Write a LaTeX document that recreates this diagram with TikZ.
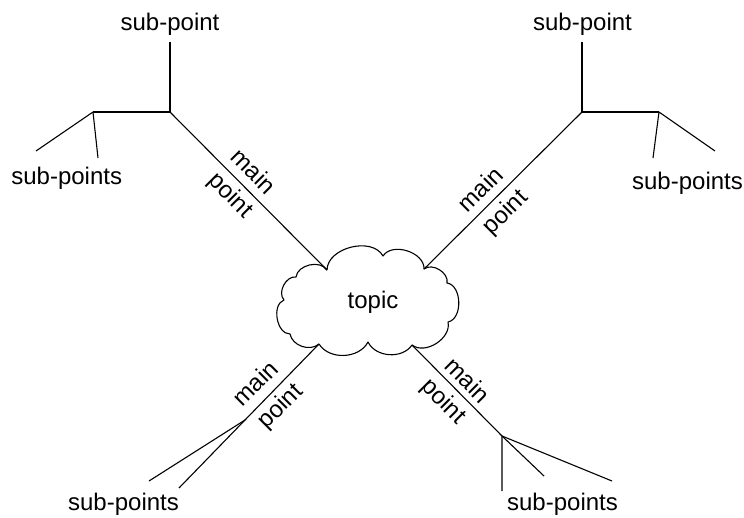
\documentclass[tikz,border=0pt]{standalone}
\usepackage{fontspec}
\setmainfont{Liberation Sans}
\begin{document}
\begin{tikzpicture}[x=1pt,y=-1pt,
  lbl/.style={font=\fontsize{24}{28}\selectfont, inner sep=0pt},
  branch/.style={line width=1.1pt, line join=round},
  puff/.style={line width=1.1pt, line join=round}]
\useasboundingbox (0,0) rectangle (744,517);
% texts
\node[lbl, anchor=base] (sp1) at (170,30) {sub-point};
\node[lbl, anchor=base] (sp2) at (582.5,30) {sub-point};
\node[lbl, anchor=base] (sps1) at (66.7,184) {sub-points};
\node[lbl, anchor=base] (sps2) at (687.5,189) {sub-points};
\node[lbl, anchor=base] (sps3) at (123.5,510) {sub-points};
\node[lbl, anchor=base] (sps4) at (562.5,510) {sub-points};
\node[lbl, anchor=base] (topic) at (373,308) {topic};
\node[lbl, rotate=-45] (m1) at (254,171) {main};
\node[lbl, rotate=-45] (p1) at (230,196) {point};
\node[lbl, rotate=45] (m2) at (480,189) {main};
\node[lbl, rotate=45] (p2) at (506,213) {point};
\node[lbl, rotate=45] (m3) at (255,383) {main};
\node[lbl, rotate=45] (p3) at (281,407) {point};
\node[lbl, rotate=-45] (m4) at (468,380) {main};
\node[lbl, rotate=-45] (p4) at (443,402) {point};
% cloud border points
\coordinate (v1) at (327,270);
\coordinate (v2) at (383,256);
\coordinate (v3) at (424,269);
\coordinate (v4) at (447,283);
\coordinate (v5) at (448,322);
\coordinate (v6) at (412,345);
\coordinate (v7) at (368,342);
\coordinate (v8) at (319,344);
\coordinate (v9) at (290,334);
\coordinate (v10) at (284,300);
\coordinate (v11) at (296,277);
\draw[puff] (v1) to[bend left=75] (v2) to[bend left=75] (v3) to[bend left=70] (v4)
  to[bend left=80] (v5) to[bend left=70] (v6) to[bend left=60] (v7) to[bend left=60] (v8)
  to[bend left=60] (v9) to[bend left=80] (v10) to[bend left=70] (v11) to[bend left=70] (v1);
% upper left branch
\coordinate (j1) at (170,112);
\coordinate (t1) at (170,42);
\coordinate (h1) at (93,112);
\coordinate (a1) at (36,151);
\coordinate (b1) at (98,158);
\draw[branch] (t1) -- (j1) -- (h1);
\draw[branch] (a1) -- (h1) -- (b1);
\draw[branch] (j1) -- (v1);
% upper right branch
\coordinate (j2) at (582,112);
\coordinate (t2) at (582,42);
\coordinate (h2) at (659,112);
\coordinate (a2) at (715,151);
\coordinate (b2) at (653,158);
\draw[branch] (t2) -- (j2) -- (h2);
\draw[branch] (a2) -- (h2) -- (b2);
\draw[branch] (j2) -- (v3);
% lower left branch
\coordinate (j3) at (245,420);
\coordinate (a3) at (149,481);
\coordinate (b3) at (179,488);
\draw[branch] (v8) -- (j3) -- (b3);
\draw[branch] (j3) -- (a3);
% lower right branch
\coordinate (j4) at (502,436);
\coordinate (a4) at (502,491);
\coordinate (b4) at (544,476);
\coordinate (c4) at (612,481);
\draw[branch] (v6) -- (j4) -- (a4);
\draw[branch] (j4) -- (b4);
\draw[branch] (j4) -- (c4);
\end{tikzpicture}
\end{document}
